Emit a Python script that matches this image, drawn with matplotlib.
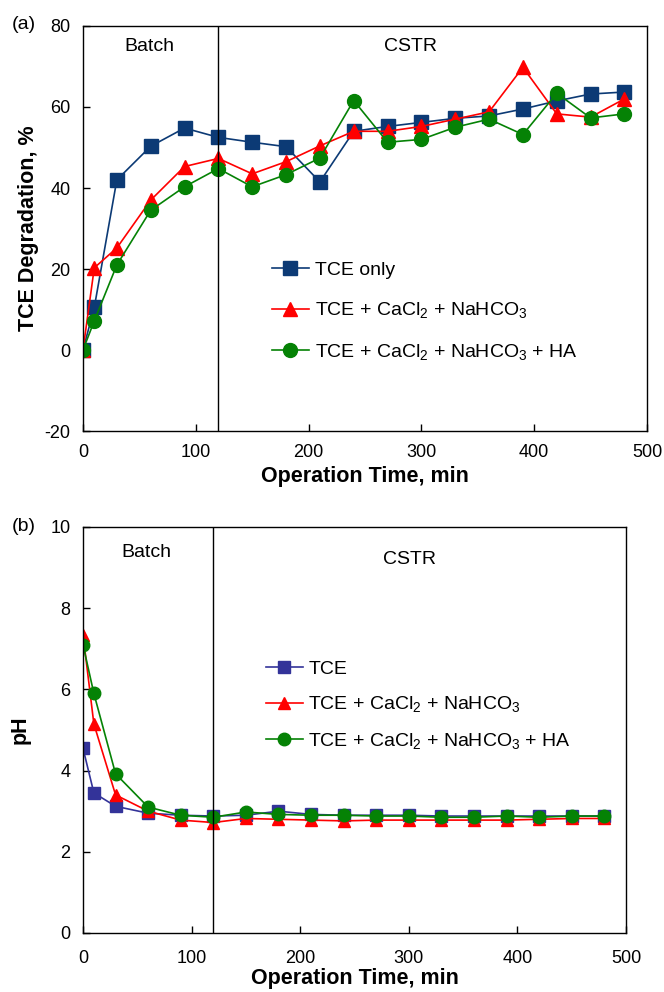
import matplotlib
matplotlib.use('Agg')
import matplotlib.pyplot as plt

plt.rcParams['font.family'] = ['Liberation Sans', 'DejaVu Sans']
plt.rcParams['mathtext.fontset'] = 'custom'
plt.rcParams['mathtext.rm'] = 'Liberation Sans'
plt.rcParams['mathtext.it'] = 'Liberation Sans'
plt.rcParams['axes.unicode_minus'] = False
plt.rcParams['font.size'] = 14

# Betriebszeit (min)
t = [0, 10, 30, 60, 90, 120, 150, 180, 210, 240, 270, 300, 330, 360, 390, 420, 450, 480]

# TCE-Abbau in %
deg_tce = [0, 10.5, 42, 50.3, 54.8, 52.5, 51.3, 50.2, 41.5, 54, 55.2, 56.2, 57.2, 57.8, 59.5, 61.5, 63.2, 63.7]
deg_ca = [0, 20.3, 25.2, 37, 45.3, 47.3, 43.5, 46.5, 50.4, 54, 54, 55.2, 57, 58.8, 69.8, 58.3, 57.5, 62]
deg_ha = [0, 7.2, 21, 34.5, 40.3, 44.8, 40.3, 43.3, 47.4, 61.6, 51.3, 52, 55, 57, 53.2, 63.4, 57.3, 58.3]

# pH-Verlauf
ph_tce = [4.55, 3.45, 3.12, 2.95, 2.9, 2.88, 2.9, 3.0, 2.92, 2.9, 2.9, 2.9, 2.88, 2.88, 2.88, 2.88, 2.88, 2.88]
ph_ca = [7.35, 5.15, 3.4, 3.0, 2.78, 2.72, 2.82, 2.8, 2.78, 2.76, 2.78, 2.78, 2.78, 2.78, 2.78, 2.8, 2.82, 2.82]
ph_ha = [7.1, 5.9, 3.92, 3.1, 2.9, 2.85, 2.98, 2.92, 2.9, 2.9, 2.88, 2.88, 2.85, 2.85, 2.88, 2.85, 2.88, 2.88]

lab_ca = r'TCE + CaCl$_2$ + NaHCO$_3$'
lab_ha = r'TCE + CaCl$_2$ + NaHCO$_3$ + HA'

fig = plt.figure(figsize=(6.64, 9.92), dpi=100)
ax1 = fig.add_axes([0.125, 0.5655, 0.8494, 0.4083])
ax2 = fig.add_axes([0.125, 0.0595, 0.8178, 0.4093])

# (a) Abbau
ax1.plot(t, deg_tce, color='#0c3a75', marker='s', ms=10, lw=1.2, label='TCE only')
ax1.plot(t, deg_ca, color='#ff0000', marker='^', ms=10, lw=1.2, label=lab_ca)
ax1.plot(t, deg_ha, color='#058205', marker='o', ms=10, lw=1.2, label=lab_ha)
ax1.axvline(120, color='black', lw=1)
ax1.set_xlim(0, 500)
ax1.set_ylim(-20, 80)
ax1.set_yticks([-20, 0, 20, 40, 60, 80])
ax1.set_xlabel('Operation Time, min', fontweight='bold', fontsize=15.5, labelpad=4)
ax1.set_ylabel('TCE Degradation, %', fontweight='bold', fontsize=15.5, labelpad=4)
ax1.text(59, 75, 'Batch', ha='center', va='center')
ax1.text(290, 75, 'CSTR', ha='center', va='center')
ax1.legend(loc='upper left', bbox_to_anchor=(0.304, 0.462), frameon=False,
           handlelength=1.9, handletextpad=0.3, labelspacing=1.1)
fig.text(0.018, 0.975, '(a)', va='center')

# (b) pH
ax2.plot(t, ph_tce, color='#333399', marker='s', ms=9, lw=1.2, label='TCE')
ax2.plot(t, ph_ca, color='#ff0000', marker='^', ms=9, lw=1.2, label=lab_ca)
ax2.plot(t, ph_ha, color='#058205', marker='o', ms=9, lw=1.2, label=lab_ha)
ax2.axvline(120, color='black', lw=1)
ax2.set_xlim(0, 500)
ax2.set_ylim(0, 10)
ax2.set_xlabel('Operation Time, min', fontweight='bold', fontsize=15.5, labelpad=1)
ax2.set_ylabel('pH', fontweight='bold', fontsize=15.5, labelpad=14)
ax2.text(58, 9.36, 'Batch', ha='center', va='center')
ax2.text(301, 9.19, 'CSTR', ha='center', va='center')
ax2.legend(loc='upper left', bbox_to_anchor=(0.304, 0.715), frameon=False,
           handlelength=1.9, handletextpad=0.3, labelspacing=0.85)
fig.text(0.018, 0.469, '(b)', va='center')

ax1.tick_params(direction='in', length=5, width=1, labelsize=13, pad=9)
ax2.tick_params(direction='in', length=5, width=1, labelsize=13, pad=9)
ax2.tick_params(axis='x', pad=12)
for ax in (ax1, ax2):
    for s in ax.spines.values():
        s.set_linewidth(1)

fig.savefig('out.png', dpi=100)
